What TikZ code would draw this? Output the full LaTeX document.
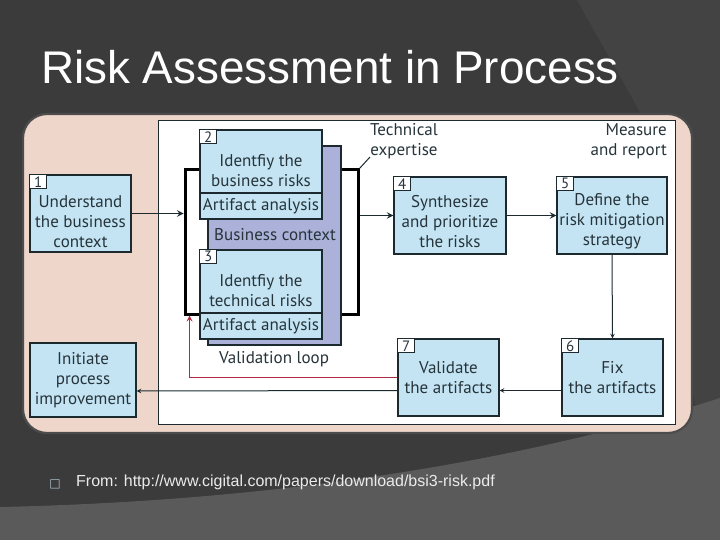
\documentclass[tikz,border=0pt]{standalone}
\usepackage{fontspec}
\setmainfont{PT Sans}
\newfontfamily\arialfont{Liberation Sans}
\newfontfamily\symbfont{DejaVu Sans}
\usetikzlibrary{positioning}
\tikzset{>=stealth}

\definecolor{slidebg}{HTML}{3B3B3B}
\definecolor{swooshgray}{HTML}{434343}
\definecolor{lowgray}{HTML}{5A5A5A}
\definecolor{panelpink}{HTML}{EFD6CB}
\definecolor{boxblue}{HTML}{C4E4F4}
\definecolor{boxline}{HTML}{1C2A30}
\definecolor{lavender}{HTML}{ABB1D9}
\definecolor{looped}{HTML}{B02A42}
\definecolor{inktext}{HTML}{26343A}

\tikzset{
  proc/.style={draw=boxline, fill=boxblue, line width=1.4pt, inner sep=0pt},
  proctext/.style={align=center, text=inktext, font=\fontsize{17}{20}\selectfont, inner sep=0pt},
  tab/.style={draw=boxline, fill=white, line width=1pt, minimum width=17pt, minimum height=14pt,
    inner sep=0pt, text=inktext, font=\fontsize{15}{15}\selectfont, anchor=north west},
  flow/.style={->, draw=boxline, line width=1pt},
  mainflow/.style={->, draw=boxline, line width=1.8pt},
}

\begin{document}
\begin{tikzpicture}[x=1pt,y=-1pt]
    \useasboundingbox (0,0) rectangle (720,540);
    \fill[slidebg] (0,0) rectangle (720,540);
    \fill[swooshgray] (577,0) -- (720,0) -- (720,430) -- (700,430) -- (640,112) -- cycle;
    \fill[lowgray] (0,507) .. controls (320,500) and (560,450) .. (720,398) -- (720,540) -- (0,540) -- cycle;

    \node[anchor=base west, text=white, font=\arialfont\fontsize{45.8}{46}\selectfont, inner sep=0pt] (title) at (41,84) {Risk Assessment in Process};

    % panel
    \draw[draw=gray!60!black, line width=2.2pt, fill=panelpink, rounded corners=24] (23,114) rectangle (692,433);
    \draw[draw=boxline, line width=1pt, fill=white] (158,121) rectangle (675,424);

    % business/technical group
    \node[draw=black, line width=3pt, minimum width=173pt, minimum height=144pt, inner sep=0pt] (grp) at (271.5,242) {};
    \node[draw=boxline, line width=1.4pt, fill=lavender, minimum width=133pt, minimum height=199pt, inner sep=0pt] (bc) at (274.5,245.5) {};
    \node[proctext, anchor=center] (bctxt) at (275,235) {Business context};

    \node[proc, minimum width=122pt, minimum height=63pt] (b2) at (261,161.5) {};
    \node[proctext] (b2txt) at ([yshift=-9pt]b2.center) {Identfiy the\\business risks};
    \node[proc, minimum width=122pt, minimum height=26pt] (a2) at (261,206) {};
    \node[proctext] (a2txt) at (a2.center) {Artifact analysis};
    \node[tab] (t2) at (b2.north west) {2};

    \node[proc, minimum width=122pt, minimum height=63pt] (b3) at (261,281.5) {};
    \node[proctext] (b3txt) at ([yshift=-9pt]b3.center) {Identfiy the\\technical risks};
    \node[proc, minimum width=122pt, minimum height=26pt] (a3) at (261,326) {};
    \node[proctext] (a3txt) at (a3.center) {Artifact analysis};
    \node[tab] (t3) at (b3.north west) {3};

    \node[proctext] (vloop) at (274,359) {Validation loop};

    % steps
    \node[proc, minimum width=101pt, minimum height=77pt] (b1) at (80.5,213.5) {};
    \node[proctext] (b1txt) at ([yshift=-8pt]b1.center) {Understand\\the business\\context};
    \node[tab] (t1) at (b1.north west) {1};

    \node[proc, minimum width=112pt, minimum height=77pt] (b4) at (450,215.5) {};
    \node[proctext] (b4txt) at ([yshift=-6pt]b4.center) {Synthesize\\and prioritize\\the risks};
    \node[tab] (t4) at (b4.north west) {4};

    \node[proc, minimum width=110pt, minimum height=77pt] (b5) at (612,215.5) {};
    \node[proctext] (b5txt) at ([yshift=-6pt]b5.center) {Define the\\risk mitigation\\strategy};
    \node[tab] (t5) at (b5.north west) {5};

    \node[proc, minimum width=101pt, minimum height=77pt] (b6) at (612.5,377.5) {};
    \node[proctext] (b6txt) at (b6.center) {Fix\\the artifacts};
    \node[tab] (t6) at (b6.north west) {6};

    \node[proc, minimum width=101pt, minimum height=77pt] (b7) at (448.5,377.5) {};
    \node[proctext] (b7txt) at (b7.center) {Validate\\the artifacts};
    \node[tab] (t7) at (b7.north west) {7};

    \node[proc, minimum width=106pt, minimum height=74pt] (b0) at (83,380) {};
    \node[proctext] (b0txt) at (b0.center) {Initiate\\process\\improvement};

    % side notes
    \node[proctext] (tech) at (404,141) {Technical\\expertise};
    \node[proctext, align=right, anchor=east] (meas) at (667,141) {Measure\\and report};
    \coordinate (techend) at (370,157);
    \draw[boxline, line width=1pt] (grp.north east) -- (techend);

    % connectors
    \draw[mainflow] (b1.east) -- (b1.east -| grp.west);
    \draw[mainflow] (b4.west -| grp.east) -- (b4.west);
    \draw[mainflow] (b4.east) -- (b5.west);
    \draw[flow] (b5.south) -- (b6.north);
    \draw[flow] ([yshift=-13pt]b6.west) -- ([yshift=-13pt]b7.east);
    \draw[flow] ([yshift=-13pt]b7.west) -- ([yshift=-11pt]b0.east);
    \draw[->, draw=looped, line width=1.6pt] (b7.west) -| ([xshift=6pt]grp.south west);

    % footer
    \node[anchor=base, text=gray!70!cyan!60!white, font=\symbfont\fontsize{12}{12}\selectfont, inner sep=0pt] (bullet) at (55,487) {□};
    \node[anchor=base west, text=white!92!black, font=\arialfont\fontsize{16}{16}\selectfont, inner sep=0pt] (src) at (76,486) {From: http://www.cigital.com/papers/download/bsi3-risk.pdf};
\end{tikzpicture}
\end{document}
